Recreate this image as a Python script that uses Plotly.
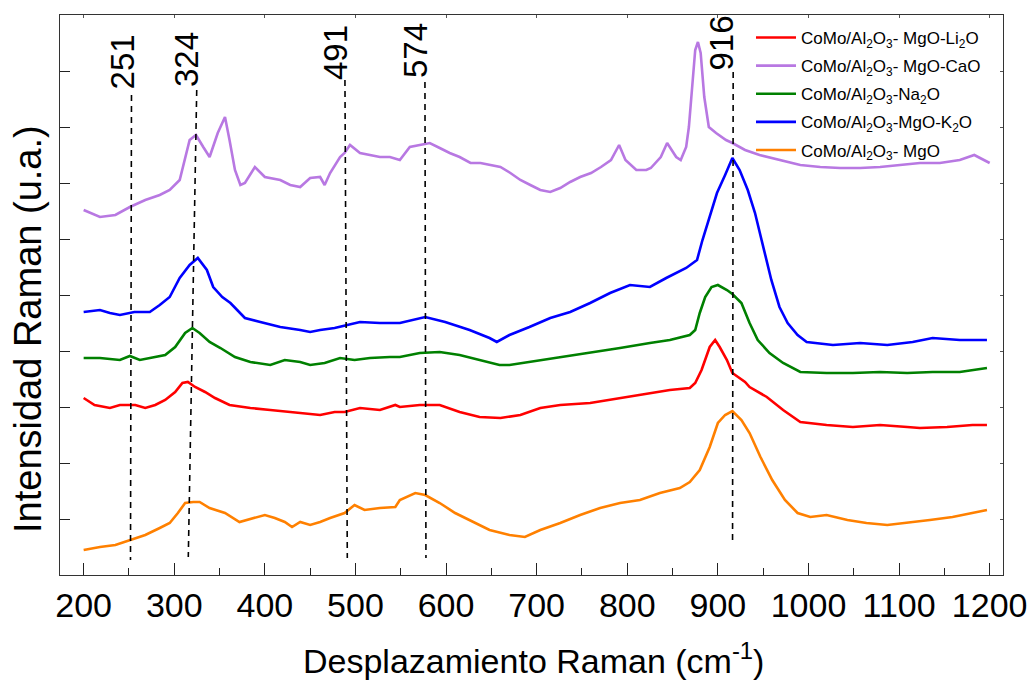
import plotly.graph_objects as go

# ---- data (Raman shift in cm-1, intensity in arbitrary units) ----
cao_x = [200, 218, 235, 251, 268, 284, 295, 306, 317, 324, 332, 339, 348, 356, 361, 367, 373, 378, 389, 400,
         417, 428, 439, 450, 461, 466, 472, 483, 488, 494, 505, 516, 527, 538, 549, 560, 571, 582, 593, 604,
         615, 627, 638, 649, 660, 671, 682, 693, 704, 715, 726, 737, 748, 760, 771, 782, 791, 798, 810, 821,
         826, 837, 844, 854, 859, 865, 868, 872, 875, 878, 881, 885, 890, 898, 909, 916, 930, 946, 968, 991,
         1013, 1035, 1057, 1079, 1101, 1123, 1145, 1167, 1183, 1200]
cao_y = [365, 358, 360, 368, 375, 380, 385, 395, 435, 440, 428, 418, 442, 458, 435, 405, 390, 392, 408, 398,
         395, 390, 388, 397, 398, 390, 402, 418, 422, 430, 422, 420, 418, 418, 415, 428, 430, 432, 427, 422,
         418, 412, 412, 410, 408, 402, 395, 390, 385, 383, 387, 393, 398, 402, 408, 415, 430, 415, 405, 405,
         407, 418, 432, 418, 415, 428, 448, 492, 525, 533, 522, 478, 448, 442, 435, 432, 425, 420, 415, 410,
         408, 407, 407, 408, 410, 412, 412, 415, 420, 412]

k2o_x = [200, 218, 229, 240, 256, 273, 284, 295, 306, 317, 326, 336, 343, 353, 362, 378, 395, 417, 439, 450,
         461, 477, 491, 505, 527, 549, 577, 599, 626, 648, 656, 670, 692, 715, 737, 759, 781, 803, 825, 843,
         865, 877, 883, 891, 899, 908, 916, 924, 933, 941, 950, 959, 968, 977, 988, 998, 1027, 1057, 1087, 1115,
         1137, 1167, 1197]
k2o_y = [263, 265, 262, 260, 263, 263, 270, 278, 297, 310, 317, 305, 288, 278, 272, 257, 253, 248, 245, 243,
         245, 247, 250, 253, 252, 252, 258, 253, 245, 237, 233, 240, 248, 257, 263, 272, 282, 290, 288, 297,
         307, 315, 335, 358, 382, 400, 417, 405, 385, 362, 328, 295, 268, 252, 240, 233, 230, 232, 230, 233,
         237, 235, 235]

na2o_x = [200, 218, 240, 251, 262, 279, 290, 301, 312, 320, 328, 339, 351, 367, 384, 406, 422, 439, 450, 466,
          483, 499, 516, 538, 549, 571, 593, 615, 637, 659, 670, 692, 725, 759, 792, 825, 847, 869, 875, 880,
          886, 893, 900, 910, 916, 926, 935, 944, 957, 972, 991, 1020, 1049, 1079, 1109, 1137, 1167, 1197]
na2o_y = [217, 217, 215, 219, 215, 218, 220, 228, 242, 247, 242, 233, 227, 218, 213, 210, 215, 213, 210, 212,
          217, 215, 217, 218, 218, 222, 223, 220, 215, 210, 210, 213, 218, 222, 227, 232, 235, 240, 245, 262,
          278, 288, 290, 285, 281, 272, 252, 235, 222, 212, 203, 202, 202, 203, 202, 203, 203, 207]

li2o_x = [200, 212, 229, 240, 257, 268, 279, 290, 301, 309, 315, 323, 334, 345, 361, 384, 406, 428, 444, 461,
          477, 488, 505, 527, 544, 549, 571, 593, 615, 637, 660, 682, 704, 726, 759, 792, 825, 847, 869, 875,
          882, 891, 897, 902, 910, 916, 930, 935, 954, 972, 991, 1020, 1049, 1079, 1109, 1123, 1153, 1181, 1197]
li2o_y = [177, 170, 167, 170, 170, 167, 170, 175, 183, 192, 193, 188, 183, 177, 170, 167, 165, 163, 162, 160,
          163, 163, 167, 165, 170, 168, 170, 170, 163, 158, 157, 160, 167, 170, 172, 177, 182, 185, 187, 192,
          205, 228, 235, 228, 215, 202, 193, 188, 178, 165, 153, 150, 148, 150, 148, 147, 148, 150, 150]

mgo_x = [200, 218, 235, 251, 268, 284, 295, 304, 312, 321, 328, 339, 356, 372, 389, 400, 411, 422, 430, 439,
         450, 461, 472, 488, 499, 510, 527, 544, 549, 566, 577, 593, 610, 626, 648, 670, 687, 704, 726, 748,
         770, 792, 814, 836, 858, 869, 880, 891, 900, 908, 916, 926, 935, 947, 960, 974, 988, 1002, 1020, 1043,
         1064, 1087, 1109, 1134, 1159, 1181, 1197]
mgo_y = [25, 28, 30, 35, 40, 47, 52, 62, 72, 73, 73, 67, 62, 53, 57, 60, 57, 53, 48, 53,
         50, 53, 57, 62, 70, 65, 67, 68, 75, 82, 80, 72, 62, 55, 45, 40, 38, 45, 52, 60,
         67, 72, 75, 82, 87, 93, 105, 128, 152, 160, 164, 155, 142, 118, 95, 75, 62, 58, 60, 55,
         52, 50, 52, 55, 58, 62, 65]

series = [
    ("CoMo/Al<sub>2</sub>O<sub>3</sub>- MgO-Li<sub>2</sub>O", li2o_x, li2o_y, "#ff0000"),
    ("CoMo/Al<sub>2</sub>O<sub>3</sub>- MgO-CaO", cao_x, cao_y, "#b878e2"),
    ("CoMo/Al<sub>2</sub>O<sub>3</sub>-Na<sub>2</sub>O", na2o_x, na2o_y, "#008000"),
    ("CoMo/Al<sub>2</sub>O<sub>3</sub>-MgO-K<sub>2</sub>O", k2o_x, k2o_y, "#0000ff"),
    ("CoMo/Al<sub>2</sub>O<sub>3</sub>- MgO", mgo_x, mgo_y, "#ff8000"),
]

# peak markers
peak_labels = ["251", "324", "491", "574", "916"]
peak_x_top = [252.8, 324.8, 488.4, 576.7, 916.9]
peak_x_bot = [251.7, 315.5, 491.0, 577.8, 916.2]
peak_y_top = [480, 485, 495, 493, 503]
peak_y_bot = [15, 18, 17, 17, 32]
label_x = [242.8, 313.0, 477.4, 565.7, 902.9]
label_y = [513, 515, 523, 525, 532]

FONT = "Liberation Sans, Arial, sans-serif"

fig = go.Figure()
for i, (name, xs, ys, col) in enumerate(series):
    fig.add_trace(go.Scatter(x=xs, y=ys, mode="lines", name=name,
                             line=dict(color=col, width=2.6),
                             legendgroup="g%d" % i))

# dummy trace to activate mirrored axes
fig.add_trace(go.Scatter(x=[None], y=[None], xaxis="x2", yaxis="y2",
                         showlegend=False, hoverinfo="skip"))

shapes = []
for xt, xb, yt, yb in zip(peak_x_top, peak_x_bot, peak_y_top, peak_y_bot):
    shapes.append(dict(type="line", xref="x", yref="y", x0=xt, y0=yt, x1=xb, y1=yb,
                       line=dict(color="black", width=1.6, dash="6px,5px")))

annotations = []
for lab, lx, ly in zip(peak_labels, label_x, label_y):
    annotations.append(dict(text=lab, x=lx, y=ly, xref="x", yref="y", showarrow=False,
                            textangle=-90, xanchor="center", yanchor="middle",
                            font=dict(family=FONT, size=33, color="black")))
annotations.append(dict(text="Desplazamiento Raman (cm<sup>-1</sup>)", x=533, y=658,
                        xref="paper", yref="paper", showarrow=False,
                        font=dict(family=FONT, size=34, color="black")))
annotations.append(dict(text="Intensidad Raman (u.a.)", x=28, y=329,
                        xref="paper", yref="paper", showarrow=False, textangle=-90,
                        font=dict(family=FONT, size=38, color="black")))

W, H = 1030, 683
L, R, T, B = 60, 27, 15, 108
pw, ph = W - L - R, H - T - B
for a in annotations[-2:]:
    a["x"] = (a["x"] - L) / pw
    a["y"] = 1 - (a["y"] - T) / ph
    a["xanchor"] = "center"
    a["yanchor"] = "middle"

xr = [173.9, 1214.7]
yr = [0, 560]
fig.update_layout(
    width=W, height=H,
    margin=dict(l=L, r=R, t=T, b=B),
    paper_bgcolor="white", plot_bgcolor="white",
    font=dict(family=FONT, color="black"),
    shapes=shapes, annotations=annotations,
    showlegend=True,
    legend=dict(x=(751 - L) / pw, y=1 - (20 - T) / ph, xanchor="left", yanchor="top",
                bgcolor="rgba(0,0,0,0)", borderwidth=0,
                font=dict(family=FONT, size=17, color="black"),
                itemwidth=40, tracegroupgap=3),
    xaxis=dict(range=xr, showline=True, linecolor="#333", linewidth=1.3, mirror=True,
               ticks="inside", ticklen=12, tickwidth=1, tickcolor="#222",
               tick0=200, dtick=100, showgrid=False, zeroline=False, automargin=False,
               tickfont=dict(family=FONT, size=34, color="black"),
               minor=dict(ticks="inside", ticklen=7, dtick=50, tick0=200, tickcolor="#222", showgrid=False)),
    yaxis=dict(range=yr, showline=True, linecolor="#333", linewidth=1.3, mirror=True,
               ticks="inside", ticklen=10, tickwidth=1, tickcolor="#222", automargin=False,
               tick0=0, dtick=56, showticklabels=False, showgrid=False, zeroline=False),
    xaxis2=dict(range=xr, overlaying="x", side="top", anchor="y", ticks="inside", ticklen=3,
                tick0=200, dtick=100, showticklabels=False, showgrid=False, zeroline=False,
                tickcolor="#555", showline=False, automargin=False),
    yaxis2=dict(range=yr, overlaying="y", side="right", anchor="x", ticks="inside", ticklen=3,
                tick0=0, dtick=56, showticklabels=False, showgrid=False, zeroline=False,
                tickcolor="#555", showline=False, automargin=False),
)

fig.write_html("out.html", config={"displayModeBar": False},
               post_script="document.body.style.margin='0';document.body.style.padding='0';")
